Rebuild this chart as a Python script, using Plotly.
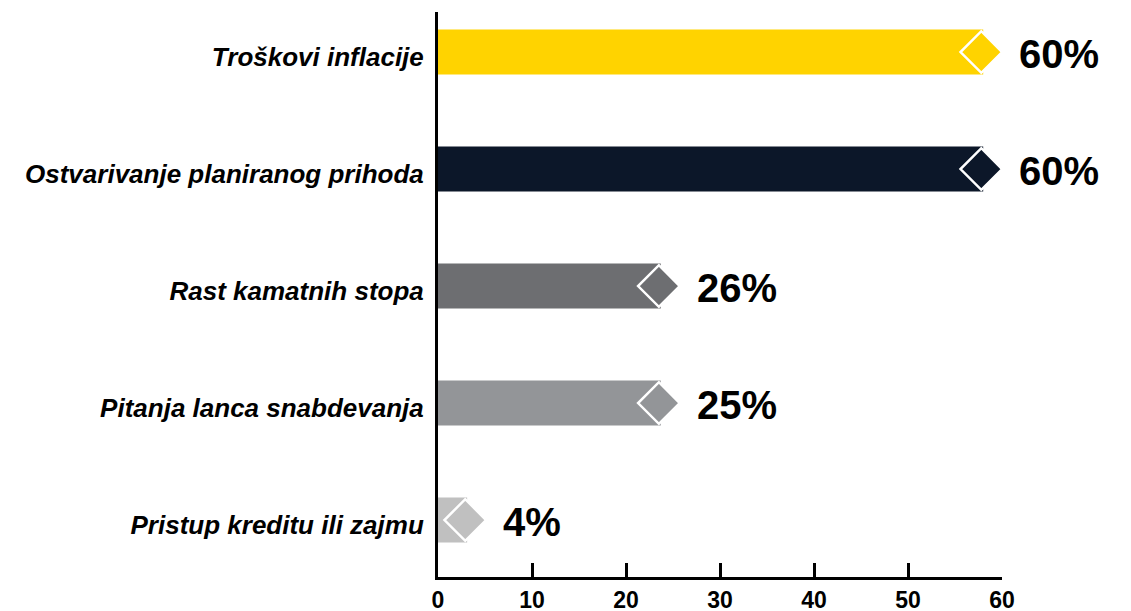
import plotly.graph_objects as go

categories = ["Pristup kreditu ili zajmu", "Pitanja lanca snabdevanja", "Rast kamatnih stopa",
              "Ostvarivanje planiranog prihoda", "Troškovi inflacije"]
bar_values = [3.1, 23.7, 23.7, 58.0, 58.0]
value_labels = ["4%", "25%", "26%", "60%", "60%"]
colors = ["#C0C0C0", "#939598", "#6D6E71", "#0C1729", "#FFD300"]
x_ticks = [0, 10, 20, 30, 40, 50, 60]

fig = go.Figure()
fig.add_trace(go.Bar(
    y=categories, x=bar_values, orientation="h",
    marker=dict(color=colors, line=dict(width=0)),
    width=0.385, hoverinfo="skip",
))
fig.add_trace(go.Scatter(
    y=categories, x=[v - 0.2 for v in bar_values], mode="markers",
    marker=dict(symbol="diamond", size=32, color=colors, line=dict(color="white", width=2.5)),
    hoverinfo="skip", cliponaxis=False,
))
for c, v, t in zip(categories, bar_values, value_labels):
    fig.add_annotation(x=v, y=c, text=t, showarrow=False, xanchor="left", yanchor="middle",
                       xshift=34, yshift=-2,
                       font=dict(family="Liberation Sans, Arial", size=40, color="black", weight="bold"))

fig.update_layout(
    width=1131, height=611,
    margin=dict(l=438, r=129, t=12, b=34),
    plot_bgcolor="white", paper_bgcolor="white",
    showlegend=False,
    xaxis=dict(range=[0, 60], tickvals=x_ticks, ticktext=[str(v) for v in x_ticks],
               showgrid=False, zeroline=False, showline=True, linecolor="black", linewidth=3,
               ticks="inside", ticklen=14, tickwidth=2.5, tickcolor="black",
               tickfont=dict(family="Liberation Sans, Arial", size=23, color="black", weight="bold"),
               ticklabelstandoff=0, automargin=False, fixedrange=True),
    yaxis=dict(categoryorder="array", categoryarray=categories, range=[-0.487, 4.342],
               showgrid=False, zeroline=False, showline=True, linecolor="black", linewidth=3,
               ticks="", ticklabelstandoff=6, ticklabelshift=5, automargin=False,
               tickfont=dict(family="Liberation Sans, Arial", size=26, color="black",
                             weight="bold", style="italic"),
               fixedrange=True),
)
fig.write_html("out.html", config={"displayModeBar": False},
               post_script="document.body.style.margin='0';")
